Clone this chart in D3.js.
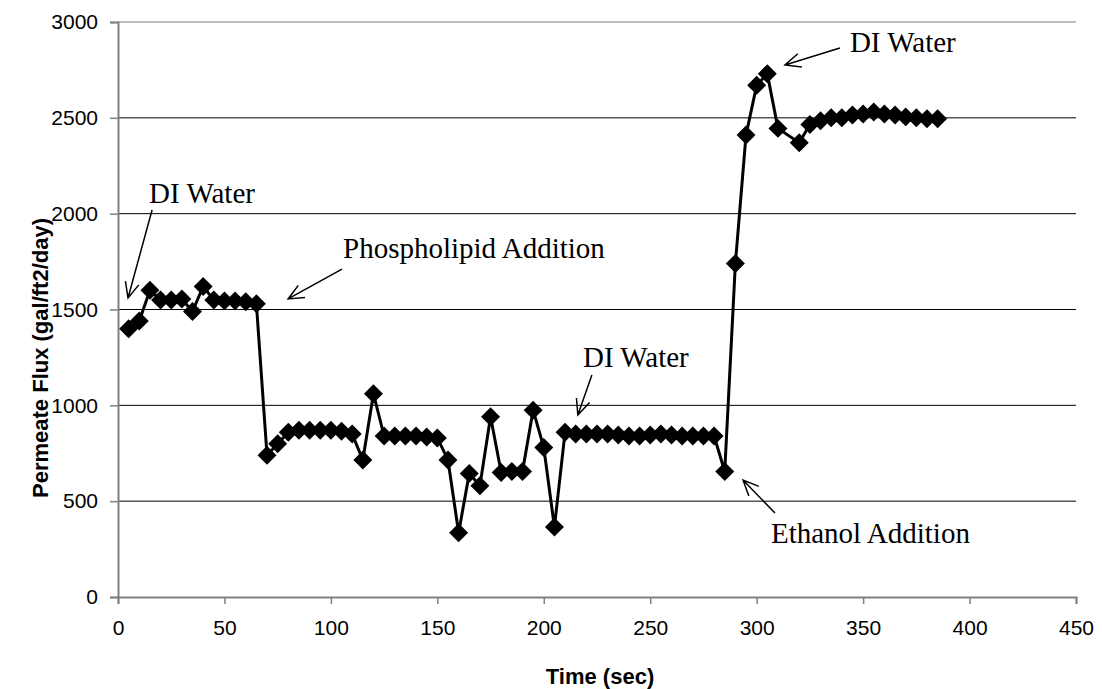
<!DOCTYPE html>
<html>
<head>
<meta charset="utf-8">
<script src="https://cdn.jsdelivr.net/npm/d3@7"></script>
<style>
  body { margin: 0; background: #fff; }
  svg { display: block; }
</style>
</head>
<body>
<svg id="chart" width="1102" height="689"></svg>
<script>
// time (sec) and permeate flux (gal/ft2/day)
var tiempo = [5,10,15,20,25,30,35,40,45,50,55,60,65,
  70,75,80,85,90,95,100,105,110,115,120,125,130,135,140,145,150,
  155,160,165,170,175,180,185,190,195,200,205,
  210,215,220,225,230,235,240,245,250,255,260,265,270,275,280,285,
  290,295,300,305,310,320,325,330,335,340,345,350,355,360,365,370,375,380,385];
var flujo = [1400,1440,1600,1550,1550,1555,1490,1620,1550,1545,1545,1540,1530,
  740,800,860,870,870,870,870,865,850,715,1060,840,840,840,840,835,830,
  715,335,645,580,940,650,655,655,975,780,365,
  860,850,850,850,850,845,840,840,845,850,845,840,840,840,840,655,
  1740,2410,2670,2730,2445,2370,2465,2485,2500,2500,2515,2520,2530,2520,2515,2505,2500,2495,2495];

var xTicks = [0,50,100,150,200,250,300,350,400,450];
var yTicks = [0,500,1000,1500,2000,2500,3000];

// annotations in data units: text start, arrow tail, arrow head
var notasTexto = ['DI Water','Phospholipid Addition','DI Water','Ethanol Addition','DI Water'];
var notasPos   = [[14.6,2056],[105.7,1769],[218.4,1200],[306.7,282],[343.8,2843]];
var flechaDesde = [[16,2019],[105.2,1711],[222.6,1158],[308.6,438],[339.1,2864]];
var flechaHasta = [[4.7,1560],[79.9,1555],[216,950],[293.6,610],[313.3,2776]];

var xScale = d3.scaleLinear().domain([0,450]).range([118,1076]);
var yScale = d3.scaleLinear().domain([0,3000]).range([597,22]);

var svg = d3.select('#chart');
var datos = tiempo.map((t,i) => ({t: t, v: flujo[i]}));

// grid lines
svg.selectAll('.grid')
  .data(yTicks.filter(d => d > 0))
  .join('line')
  .attr('class','grid')
  .attr('x1', xScale(0)).attr('x2', xScale(450))
  .attr('y1', d => yScale(d)).attr('y2', d => yScale(d))
  .attr('stroke', d => d == 3000 ? '#808080' : '#000')
  .attr('stroke-width', 1);

// axes
var ejeY = svg.append('g')
  .attr('transform','translate(' + xScale(0) + ',0)')
  .call(d3.axisLeft(yScale).tickValues(yTicks).tickFormat(d3.format('d')).tickSize(8).tickPadding(12));
var ejeX = svg.append('g')
  .attr('transform','translate(0,' + yScale(0) + ')')
  .call(d3.axisBottom(xScale).tickValues(xTicks).tickFormat(d3.format('d')).tickSize(7).tickPadding(16));

[ejeY, ejeX].forEach(g => {
  g.attr('font-size', null).attr('font-family', null);
  g.select('.domain').attr('stroke','#808080').attr('stroke-width',2);
  g.selectAll('.tick line').attr('stroke','#808080').attr('stroke-width',1.5);
  g.selectAll('.tick text')
    .style('font-family','"Liberation Sans", Arial, sans-serif')
    .style('font-size','21px')
    .attr('fill','#000');
});

// axis titles
svg.append('text')
  .attr('x', 600).attr('y', 684)
  .attr('text-anchor','middle')
  .style('font-family','"Liberation Sans", Arial, sans-serif')
  .style('font-weight','bold')
  .style('font-size','22px')
  .text('Time (sec)');
svg.append('text')
  .attr('transform','translate(48,358) rotate(-90)')
  .attr('text-anchor','middle')
  .style('font-family','"Liberation Sans", Arial, sans-serif')
  .style('font-weight','bold')
  .style('font-size','22px')
  .text('Permeate Flux (gal/ft2/day)');

// series line
svg.append('path')
  .datum(datos)
  .attr('fill','none')
  .attr('stroke','#000')
  .attr('stroke-width',3)
  .attr('stroke-linejoin','round')
  .attr('d', d3.line().x(d => xScale(d.t)).y(d => yScale(d.v)));

// diamond markers
svg.selectAll('.punto')
  .data(datos)
  .join('path')
  .attr('class','punto')
  .attr('d', d3.symbol(d3.symbolSquare, 180))
  .attr('transform', d => 'translate(' + xScale(d.t) + ',' + yScale(d.v) + ') rotate(45)')
  .attr('fill','#000');

// annotations
svg.selectAll('.nota')
  .data(notasTexto)
  .join('text')
  .attr('class','nota')
  .attr('x', (d,i) => xScale(notasPos[i][0]))
  .attr('y', (d,i) => yScale(notasPos[i][1]))
  .style('font-family','"Liberation Serif", "Times New Roman", serif')
  .style('font-size','29px')
  .attr('fill','#000')
  .text(d => d);

function flecha(desde, hasta) {
  var x1 = xScale(desde[0]), y1 = yScale(desde[1]);
  var x2 = xScale(hasta[0]), y2 = yScale(hasta[1]);
  var ang = Math.atan2(y1 - y2, x1 - x2);
  var largo = 17, abre = 0.42;
  var p = d3.path();
  p.moveTo(x1, y1); p.lineTo(x2, y2);
  p.moveTo(x2 + largo * Math.cos(ang + abre), y2 + largo * Math.sin(ang + abre));
  p.lineTo(x2, y2);
  p.lineTo(x2 + largo * Math.cos(ang - abre), y2 + largo * Math.sin(ang - abre));
  return p.toString();
}

svg.selectAll('.flecha')
  .data(notasTexto)
  .join('path')
  .attr('class','flecha')
  .attr('d', (d,i) => flecha(flechaDesde[i], flechaHasta[i]))
  .attr('fill','none')
  .attr('stroke','#000')
  .attr('stroke-width',1.5);
</script>
</body>
</html>
